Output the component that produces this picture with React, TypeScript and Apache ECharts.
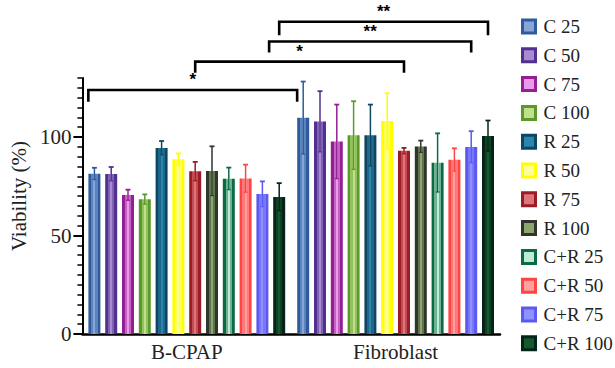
import React, { useEffect, useRef } from "react";
import * as echarts from "echarts";

const categories = ["B-CPAP", "Fibroblast"];
const seriesNames = ["C 25", "C 50", "C 75", "C 100", "R 25", "R 50", "R 75", "R 100", "C+R 25", "C+R 50", "C+R 75", "C+R 100"];
const bcpapValues = [81.4, 81.3, 70.6, 68.4, 94.5, 88.7, 82.6, 82.8, 78.9, 79.0, 71.1, 69.6];
const bcpapErrors = [3.0, 3.5, 2.7, 2.5, 3.5, 3.0, 4.8, 12.5, 5.6, 7.0, 6.4, 7.0];
const fibroValues = [109.8, 107.9, 97.7, 100.9, 100.9, 108.2, 93.0, 95.2, 87.0, 88.5, 95.0, 100.6];
const fibroErrors = [18.4, 15.4, 18.8, 17.3, 15.6, 14.1, 1.5, 3.0, 14.9, 5.8, 8.0, 7.8];
const yTickLabels = [0, 50, 100];
// brackets: [fromCategory, fromBarPosition, toCategory, toBarPosition, level, dropLevel]
const brackets = [
  [0, -0.36, 1, -0.36, 123.9, 118.0],
  [0, 6, 1, 6, 138.3, 132.7],
  [0, 10.4, 1, 10, 148.5, 142.9],
  [0, 11, 1, 11, 158.6, 151.7],
];
const bracketLabels = ["*", "*", "**", "**"];

const darkColors = ["#2d5b9b", "#52308f", "#931f93", "#5a9a2a", "#0f4560", "#ffff00", "#9a1c24", "#2f372b", "#0b6a44", "#ff4444", "#5a5af2", "#04241a"];
const lightColors = ["#86a6da", "#a68ad2", "#ec98ea", "#c2e08c", "#2a86ae", "#ffff99", "#e0747c", "#8ca66c", "#bdebd8", "#ffa0a0", "#9090ff", "#155a2c"];

const BAR_WIDTH = 12;
const BAR_GAP = 0.4;
const FONT = "Liberation Serif";

function mix(a: string, b: string, t: number) {
  const pa = [1, 3, 5].map((i) => parseInt(a.slice(i, i + 2), 16));
  const pb = [1, 3, 5].map((i) => parseInt(b.slice(i, i + 2), 16));
  const r = pa.map((v, i) => Math.round(v + (pb[i] - v) * t));
  return "#" + r.map((v) => v.toString(16).padStart(2, "0")).join("");
}

export default function App() {
  const ref = useRef<HTMLDivElement>(null);
  useEffect(() => {
    if (!ref.current) return;
    const chart = echarts.init(ref.current, undefined, { renderer: "svg" });
    const n = seriesNames.length;
    const pitch = BAR_WIDTH * (1 + BAR_GAP);

    const barSeries = seriesNames.map((name, s) => {
      const d = darkColors[s];
      const l = lightColors[s];
      const m = mix(d, l, 0.55);
      return {
        name,
        type: "bar",
        barWidth: BAR_WIDTH,
        barGap: BAR_GAP * 100 + "%",
        data: [bcpapValues[s], fibroValues[s]],
        itemStyle: {
          color: new echarts.graphic.LinearGradient(0, 0, 1, 0, [
            { offset: 0, color: d },
            { offset: 0.24, color: d },
            { offset: 0.24, color: m },
            { offset: 0.42, color: m },
            { offset: 0.42, color: l },
            { offset: 0.58, color: l },
            { offset: 0.58, color: m },
            { offset: 0.76, color: m },
            { offset: 0.76, color: d },
            { offset: 1, color: d },
          ]),
        },
        z: 2,
      };
    });

    const errorSeries = seriesNames.map((name, s) => ({
      type: "custom",
      name: "err-" + name,
      clip: false,
      z: 3,
      data: [
        [0, bcpapValues[s], bcpapErrors[s]],
        [1, fibroValues[s], fibroErrors[s]],
      ],
      encode: { x: 0, y: 1 },
      renderItem: (params: any, api: any) => {
        const cat = api.value(0);
        const v = api.value(1);
        const e = api.value(2);
        const off = (s - (n - 1) / 2) * pitch;
        const hi = api.coord([cat, v + e]);
        const lo = api.coord([cat, v - e]);
        const x = hi[0] + off;
        const col = darkColors[s];
        return {
          type: "group",
          children: [
            { type: "line", shape: { x1: x, y1: hi[1], x2: x, y2: lo[1] }, style: { stroke: col, lineWidth: 1.5 } },
            { type: "line", shape: { x1: x - 2.5, y1: hi[1], x2: x + 2.5, y2: hi[1] }, style: { stroke: col, lineWidth: 1.8 } },
            { type: "line", shape: { x1: x - 2, y1: lo[1], x2: x + 2, y2: lo[1] }, style: { stroke: col, lineWidth: 1.2 } },
          ],
        };
      },
    }));

    const bracketSeries = {
      type: "custom",
      name: "brackets",
      clip: false,
      z: 4,
      data: brackets,
      encode: { x: 0, y: 4 },
      renderItem: (params: any, api: any) => {
        const b = brackets[params.dataIndex];
        const p1 = api.coord([b[0], b[4]]);
        const p2 = api.coord([b[2], b[4]]);
        const pd = api.coord([b[0], b[5]]);
        const x1 = p1[0] + (b[1] - (n - 1) / 2) * pitch;
        const x2 = p2[0] + (b[3] - (n - 1) / 2) * pitch;
        const y = p1[1];
        const yd = pd[1];
        return {
          type: "group",
          children: [
            {
              type: "polyline",
              shape: { points: [[x1, yd], [x1, y], [x2, y], [x2, yd]] },
              style: { stroke: "#000", lineWidth: 2.6, fill: "none" },
            },
            {
              type: "text",
              x: (x1 + x2) / 2,
              y: y - 2,
              style: {
                text: bracketLabels[params.dataIndex],
                fontFamily: "Liberation Sans",
                fontWeight: "bold",
                fontSize: 17,
                fill: "#000",
                align: "center",
                verticalAlign: "bottom",
              },
            },
          ],
        };
      },
    };

    chart.setOption({
      animation: false,
      textStyle: { fontFamily: FONT },
      grid: { left: 78, right: 115, top: 78, bottom: 34 },
      legend: {
        orient: "vertical",
        left: 516,
        top: 12,
        itemWidth: 13,
        itemHeight: 13,
        itemGap: 9.8,
        textStyle: { fontFamily: FONT, fontSize: 19, color: "#222", lineHeight: 19, padding: [0, 0, 0, 3] },
        data: seriesNames.map((name, s) => ({
          name,
          icon: "rect",
          itemStyle: { color: lightColors[s], borderColor: darkColors[s], borderWidth: 3 },
        })),
      },
      xAxis: {
        type: "category",
        data: categories,
        axisLine: { lineStyle: { color: "#000", width: 2.5 } },
        axisTick: { alignWithLabel: true, length: 7, lineStyle: { color: "#000", width: 2 } },
        axisLabel: { fontFamily: FONT, fontSize: 21, color: "#222", margin: 7 },
      },
      yAxis: [
        {
          type: "value",
          min: 0,
          max: 130,
          interval: 5,
          name: "Viability (%)",
          nameLocation: "middle",
          nameGap: 50,
          nameTextStyle: { fontFamily: FONT, fontSize: 21, color: "#222", padding: [0, 0, 0, 20] },
          axisLine: { show: true, lineStyle: { color: "#000", width: 2 } },
          axisTick: { show: true, length: 5, lineStyle: { color: "#000", width: 1.5 } },
          axisLabel: {
            fontFamily: FONT,
            fontSize: 21,
            color: "#222",
            margin: 11,
            formatter: (v: number) => (yTickLabels.indexOf(v) >= 0 ? String(v) : ""),
          },
          splitLine: { show: false },
        },
        {
          type: "value",
          min: 0,
          max: 130,
          interval: 5,
          position: "left",
          axisLine: { show: false },
          axisTick: { show: true, length: 9, lineStyle: { color: "#000", width: 2 }, customValues: yTickLabels },
          axisLabel: { show: false },
          splitLine: { show: false },
        },
      ],
      series: [...barSeries, ...errorSeries, bracketSeries],
    });
    return () => chart.dispose();
  }, []);
  return <div ref={ref} style={{ position: "fixed", left: 0, top: 0, width: 615, height: 368, background: "#fff" }} />;
}
